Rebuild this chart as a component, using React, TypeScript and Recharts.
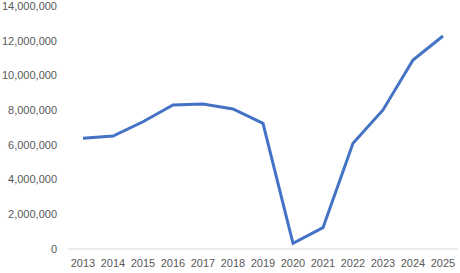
import React from "react";
import { Line, LineChart, XAxis, YAxis } from "recharts";

const years = ["2013", "2014", "2015", "2016", "2017", "2018", "2019", "2020", "2021", "2022", "2023", "2024", "2025"];
const values = [6380000, 6510000, 7330000, 8300000, 8350000, 8070000, 7240000, 330000, 1230000, 6090000, 8010000, 10890000, 12270000];
const yTicks = [0, 2000000, 4000000, 6000000, 8000000, 10000000, 12000000, 14000000];

const data = years.map((year, i) => ({ year, value: values[i] }));

const tickStyle = { fontFamily: "Liberation Sans, Arial, sans-serif", fontSize: 11, fill: "#595959" };

export default function App() {
  return (
    <div style={{ position: "absolute", left: 0, top: 0, background: "#fff" }}>
      <LineChart width={460} height={273} data={data} margin={{ top: 6, right: 2, bottom: 0, left: 0 }}>
        <XAxis
          dataKey="year"
          tick={tickStyle}
          tickLine={false}
          axisLine={{ stroke: "#d9d9d9" }}
          height={24}
          tickMargin={4}
          interval={0}
          padding={{ left: 15, right: 15 }}
        />
        <YAxis
          domain={[0, 14000000]}
          ticks={yTicks}
          tick={tickStyle}
          tickLine={false}
          axisLine={false}
          width={68}
          tickMargin={5}
          tickFormatter={(v: number) => v.toLocaleString("en-US")}
        />
        <Line
          type="linear"
          dataKey="value"
          stroke="#4472C4"
          strokeWidth={3}
          dot={false}
          isAnimationActive={false}
        />
      </LineChart>
    </div>
  );
}
